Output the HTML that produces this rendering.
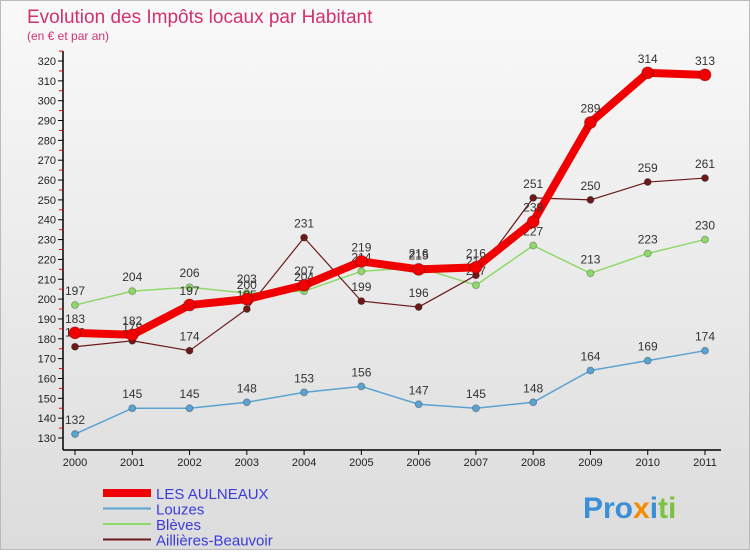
<!DOCTYPE html>
<html><head><meta charset="utf-8"><style>
body{margin:0;width:750px;height:550px;overflow:hidden;font-family:"Liberation Sans",sans-serif}
#wrap{position:relative;width:748px;height:548px;border:1px solid #bbb;background:linear-gradient(#f9f9f9,#dcdcdc)}
</style></head><body>
<div id="wrap">
<svg id="chart" width="748" height="548">
<text x="26" y="22" font-size="19" fill="#d2316e">Evolution des Impôts locaux par Habitant</text>
<text x="26" y="39" font-size="12" fill="#d2316e">(en € et par an)</text>
<g id="axes"></g><g id="series"></g><g id="legend"></g>
<text x="582" y="517" font-size="30" font-weight="bold"><tspan fill="#3a8fd6">Pro</tspan><tspan fill="#f28c00">x</tspan><tspan fill="#3a8fd6">i</tspan><tspan fill="#7cc242">ti</tspan></text>
</svg></div>
<script>
const years=[2000,2001,2002,2003,2004,2005,2006,2007,2008,2009,2010,2011];
const yTicks=[130,140,150,160,170,180,190,200,210,220,230,240,250,260,270,280,290,300,310,320];
const aulneaux=[183,182,197,200,207,219,215,216,239,289,314,313];
const louzes=[132,145,145,148,153,156,147,145,148,164,169,174];
const bleves=[197,204,206,203,204,214,216,207,227,213,223,230];
const aillieres=[176,179,174,195,231,199,196,212,251,250,259,261];
const NS="http://www.w3.org/2000/svg";
function X(i){return 74+i*(630/11);}
function Y(v){return 437-(v-130)*(377/190);}
function mk(t,a,p){const e=document.createElementNS(NS,t);for(const k in a)e.setAttribute(k,a[k]);p.appendChild(e);return e;}
const ax=document.getElementById('axes');
const yl=mk('line',{x1:62,y1:50,x2:62,y2:449,stroke:'#000','stroke-width':1.5},ax);


const xl=mk('line',{x1:62,y1:449,x2:720,y2:449,stroke:'#000','stroke-width':1.5},ax);


yTicks.forEach(v=>{
 mk('line',{x1:57,y1:Y(v),x2:62,y2:Y(v),stroke:'#000'},ax);
 mk('line',{x1:58,y1:Y(v+5),x2:62,y2:Y(v+5),stroke:'#e00'},ax);
 const t=mk('text',{x:55,y:Y(v)+4,'font-size':11,'text-anchor':'end',fill:'#222'},ax);t.textContent=v;
 
 
});
years.forEach((y,i)=>{
 mk('line',{x1:X(i),y1:449,x2:X(i),y2:454,stroke:'#000'},ax);
 const t=mk('text',{x:X(i),y:465,'font-size':11,'text-anchor':'middle',fill:'#222'},ax);t.textContent=y;
 
 
});
const sg=document.getElementById('series');
function draw(data,color,w,r,name){
 const g=mk('g',{},sg);
 
 
 const pl=mk('polyline',{points:data.map((v,i)=>X(i)+','+Y(v)).join(' '),fill:'none',stroke:color,'stroke-width':w,'stroke-linejoin':'round'},g);
 
 
 data.forEach((v,i)=>{
  const c=mk('circle',{cx:X(i),cy:Y(v),r:r,fill:color,stroke:'rgba(0,0,0,0.25)'},g);
  
  
  const t=mk('text',{x:X(i),y:Y(v)-10,'font-size':12,'text-anchor':'middle',fill:'#333'},g);t.textContent=v;
  
  
 });
}
draw(louzes,'#5ba3d0',1.5,3.5,'louzes');
draw(bleves,'#8fd86a',1.5,3.5,'bleves');
draw(aillieres,'#6b1a1a',1.2,3.5,'aillieres-beauvoir');
draw(aulneaux,'#f00000',8,6,'les-aulneaux');
const lg=document.getElementById('legend');
const items=[['LES AULNEAUX','#f00000',8],['Louzes','#5ba3d0',2],['Blèves','#8fd86a',2],['Aillières-Beauvoir','#6b1a1a',2]];
items.forEach((it,i)=>{
 const y=492+i*15.5;
 const l=mk('line',{x1:102,y1:y,x2:150,y2:y,stroke:it[1],'stroke-width':it[2]},lg);
 
 
 const t=mk('text',{x:155,y:y+6,'font-size':15,fill:'#3b3bdb'},lg);t.textContent=it[0];
 
 
});
</script></body></html>
